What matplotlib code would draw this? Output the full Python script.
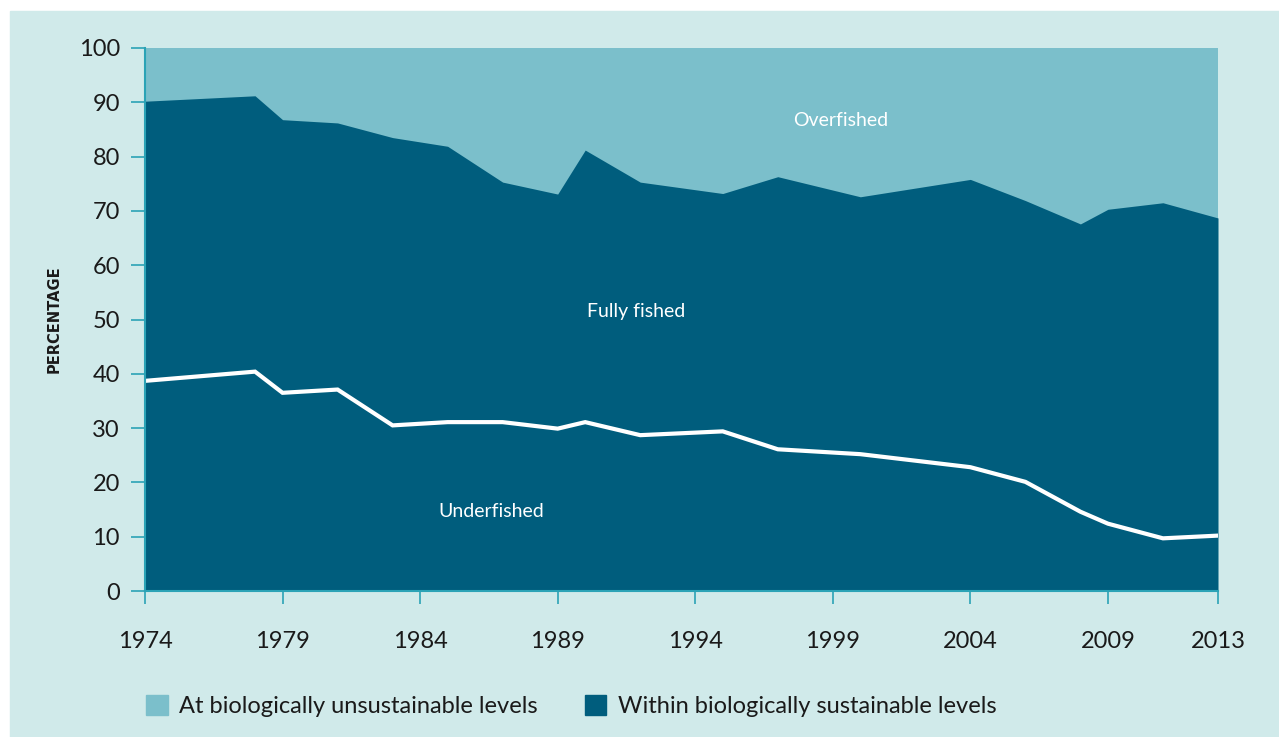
import matplotlib

matplotlib.use("Agg")
import matplotlib.pyplot as plt
from matplotlib.patches import Patch, Rectangle

# Share of assessed fish stocks (%)
years = [1974, 1978, 1979, 1981, 1983, 1985, 1987, 1989, 1990, 1992,
         1995, 1997, 2000, 2004, 2006, 2008, 2009, 2011, 2013]
sustainable = [90.2, 91.2, 86.8, 86.2, 83.5, 81.9, 75.3, 73.1, 81.2, 75.3,
               73.2, 76.3, 72.6, 75.8, 71.9, 67.6, 70.3, 71.5, 68.7]
underfished = [38.7, 40.4, 36.5, 37.1, 30.5, 31.1, 31.1, 29.9, 31.1, 28.7,
               29.4, 26.1, 25.2, 22.8, 20.1, 14.6, 12.4, 9.7, 10.2]
xticks = [1974, 1979, 1984, 1989, 1994, 1999, 2004, 2009, 2013]
yticks = list(range(0, 101, 10))
legend_labels = ["At biologically unsustainable levels",
                 "Within biologically sustainable levels"]

BG = "#d0eaea"
LIGHT = "#7bbfcb"
DARK = "#005d7d"
AXIS = "#2ba3b6"
TEXT = "#1a1a1a"

plt.rcParams["font.family"] = ["Lato", "DejaVu Sans"]

fig = plt.figure(figsize=(12.79, 7.37), dpi=100)
fig.patches.append(Rectangle((10 / 1279, 0), 1, 1 - 11 / 737, transform=fig.transFigure,
                             color=BG, zorder=-10))
ax = fig.add_axes([145 / 1279, 1 - 591 / 737, (1218 - 145) / 1279, (591 - 48) / 737])
ax.set_facecolor(LIGHT)

ax.fill_between(years, 0, 100, color=LIGHT, lw=0)
ax.fill_between(years, 0, sustainable, color=DARK, lw=0)
ax.plot(years, underfished, color="white", lw=3, solid_joinstyle="miter")

ax.set_xlim(1974, 2013)
ax.set_ylim(0, 100)
ax.set_xticks(xticks)
ax.set_yticks(yticks)
ax.tick_params(axis="x", length=9, width=1.2, color=AXIS, pad=20, labelsize=17, labelcolor=TEXT)
ax.tick_params(axis="y", length=10, width=1.2, color=AXIS, pad=8, labelsize=17, labelcolor=TEXT)
for side in ["top", "right"]:
    ax.spines[side].set_visible(False)
for side in ["left", "bottom"]:
    ax.spines[side].set_color(AXIS)
    ax.spines[side].set_linewidth(1.5)

ax.set_ylabel("PERCENTAGE", fontsize=10.5, fontweight="bold", color=TEXT, labelpad=12,
              family="DejaVu Sans")

ax.text(1999.3, 86.7, "Overfished", color="white", fontsize=14, ha="center", va="center")
ax.text(1991.85, 51.4, "Fully fished", color="white", fontsize=14, ha="center", va="center")
ax.text(1986.6, 14.7, "Underfished", color="white", fontsize=14, ha="center", va="center")

handles = [Patch(color=LIGHT), Patch(color=DARK)]
fig.legend(handles, legend_labels, loc="center left", bbox_to_anchor=(125 / 1279, 1 - 706 / 737),
           ncol=2, frameon=False, fontsize=17, handlelength=0.9, handleheight=0.9,
           handletextpad=0.5, columnspacing=2.0, labelcolor=TEXT)

fig.savefig("out.png", dpi=100)
